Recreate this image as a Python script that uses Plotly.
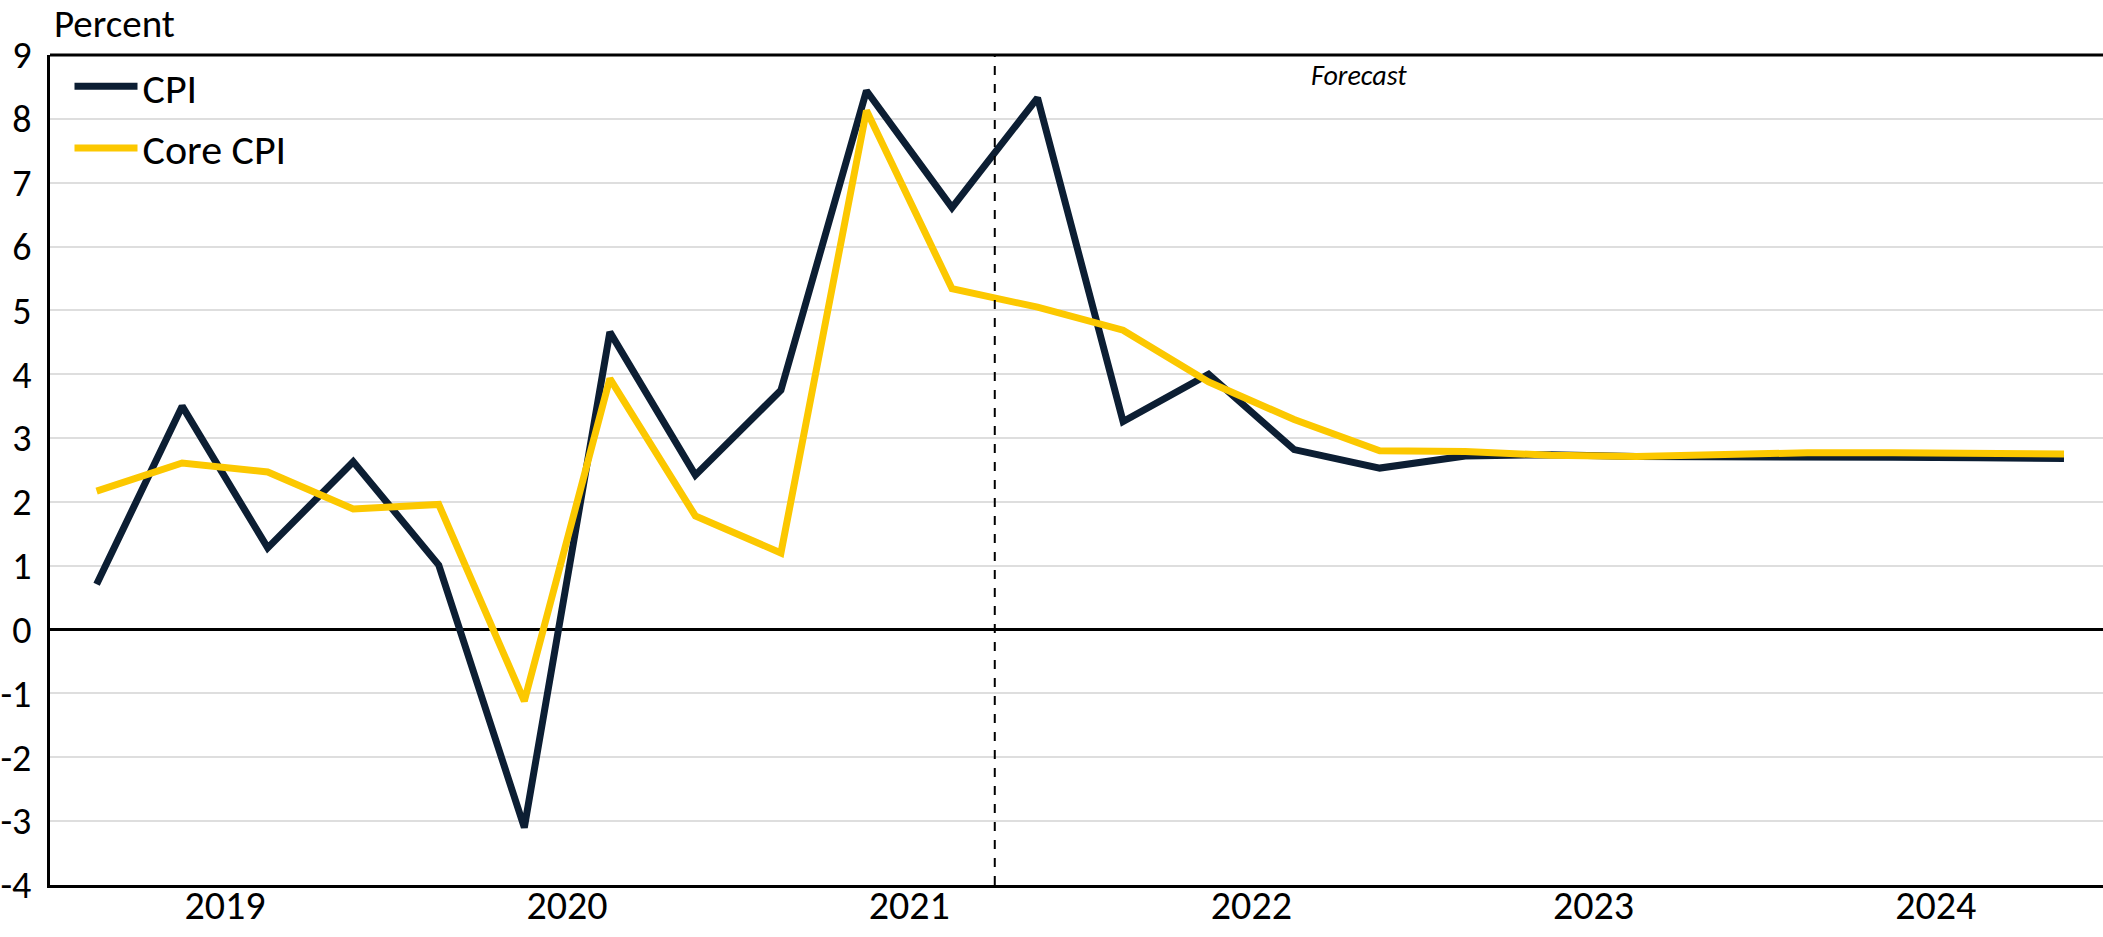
import plotly.graph_objects as go

quarters = ["2019Q1", "2019Q2", "2019Q3", "2019Q4",
            "2020Q1", "2020Q2", "2020Q3", "2020Q4",
            "2021Q1", "2021Q2", "2021Q3", "2021Q4",
            "2022Q1", "2022Q2", "2022Q3", "2022Q4",
            "2023Q1", "2023Q2", "2023Q3", "2023Q4",
            "2024Q1", "2024Q2", "2024Q3", "2024Q4"]
cpi = [0.71, 3.50, 1.28, 2.63, 1.01, -3.10, 4.66, 2.42,
       3.75, 8.44, 6.61, 8.33, 3.26, 4.00, 2.82, 2.53,
       2.72, 2.74, 2.71, 2.71, 2.72, 2.70, 2.69, 2.68]
core = [2.17, 2.61, 2.47, 1.89, 1.96, -1.12, 3.93, 1.78,
        1.20, 8.13, 5.34, 5.05, 4.69, 3.88, 3.29, 2.80,
        2.79, 2.73, 2.71, 2.75, 2.77, 2.77, 2.77, 2.75]
year_labels = ["2019", "2020", "2021", "2022", "2023", "2024"]
y_ticks = [-4, -3, -2, -1, 0, 1, 2, 3, 4, 5, 6, 7, 8, 9]
y_tick_labels = ["-4", "-3", "-2", "-1", "0", "1", "2", "3", "4", "5", "6", "7", "8", "9"]
forecast_after = "2021Q3"

FONT = "Carlito, 'Liberation Sans Narrow', Lato, 'Open Sans', sans-serif"
NAVY = "#0c1e33"
GOLD = "#fcc800"

xs = list(range(len(quarters)))
year_pos = [sum(i for i, q in enumerate(quarters) if q.startswith(y)) / 4 for y in year_labels]
fc_x = quarters.index(forecast_after) + 0.5

fig = go.Figure()
fig.add_trace(go.Scatter(x=xs, y=cpi, mode="lines", name="CPI",
                         line=dict(color=NAVY, width=7), legendgroup="a"))
fig.add_trace(go.Scatter(x=xs, y=core, mode="lines", name="Core CPI",
                         line=dict(color=GOLD, width=7), legendgroup="b"))

# forecast divider
fig.add_shape(type="line", xref="x", yref="paper", x0=fc_x, x1=fc_x, y0=0, y1=1,
              line=dict(color="black", width=2, dash="dash"))
# top border
fig.add_shape(type="line", xref="paper", yref="paper", x0=0, x1=1, y0=1, y1=1,
              line=dict(color="black", width=3))

fig.add_annotation(text="Percent", xref="paper", yref="paper", x=0.001, y=1.0,
                   yshift=32, xanchor="left", yanchor="middle", showarrow=False,
                   font=dict(family=FONT, size=39, color="black"))
fig.add_annotation(text="<i>Forecast</i>", xref="x", yref="paper", x=14.76, y=0.975,
                   xanchor="center", yanchor="middle", showarrow=False,
                   font=dict(family=FONT, size=28, color="black"))

fig.update_layout(
    width=2103, height=937,
    margin=dict(l=50, r=0, t=55, b=52),
    paper_bgcolor="white", plot_bgcolor="white",
    font=dict(family=FONT, color="black"),
    showlegend=True,
    legend=dict(x=0.0095, y=1.003, xanchor="left", yanchor="top",
                font=dict(family=FONT, size=42, color="black"),
                bgcolor="rgba(0,0,0,0)", tracegroupgap=4, itemwidth=63),
    xaxis=dict(range=[-0.545, 23.456], tickmode="array", tickvals=year_pos,
               ticktext=year_labels, showgrid=False, zeroline=False,
               showline=True, linecolor="black", linewidth=3, ticks="",
               automargin=False, ticklabelstandoff=-17,
               tickfont=dict(family=FONT, size=40, color="black")),
    yaxis=dict(range=[-4, 9], tickmode="array", tickvals=y_ticks,
               ticktext=y_tick_labels, showgrid=True, gridcolor="#dedede",
               gridwidth=2, zeroline=True, zerolinecolor="black",
               zerolinewidth=3, showline=True, linecolor="black",
               linewidth=3, ticks="", ticklabelstandoff=8, automargin=False,
               tickfont=dict(family=FONT, size=38, color="black")),
)

fig.write_html("out.html")
